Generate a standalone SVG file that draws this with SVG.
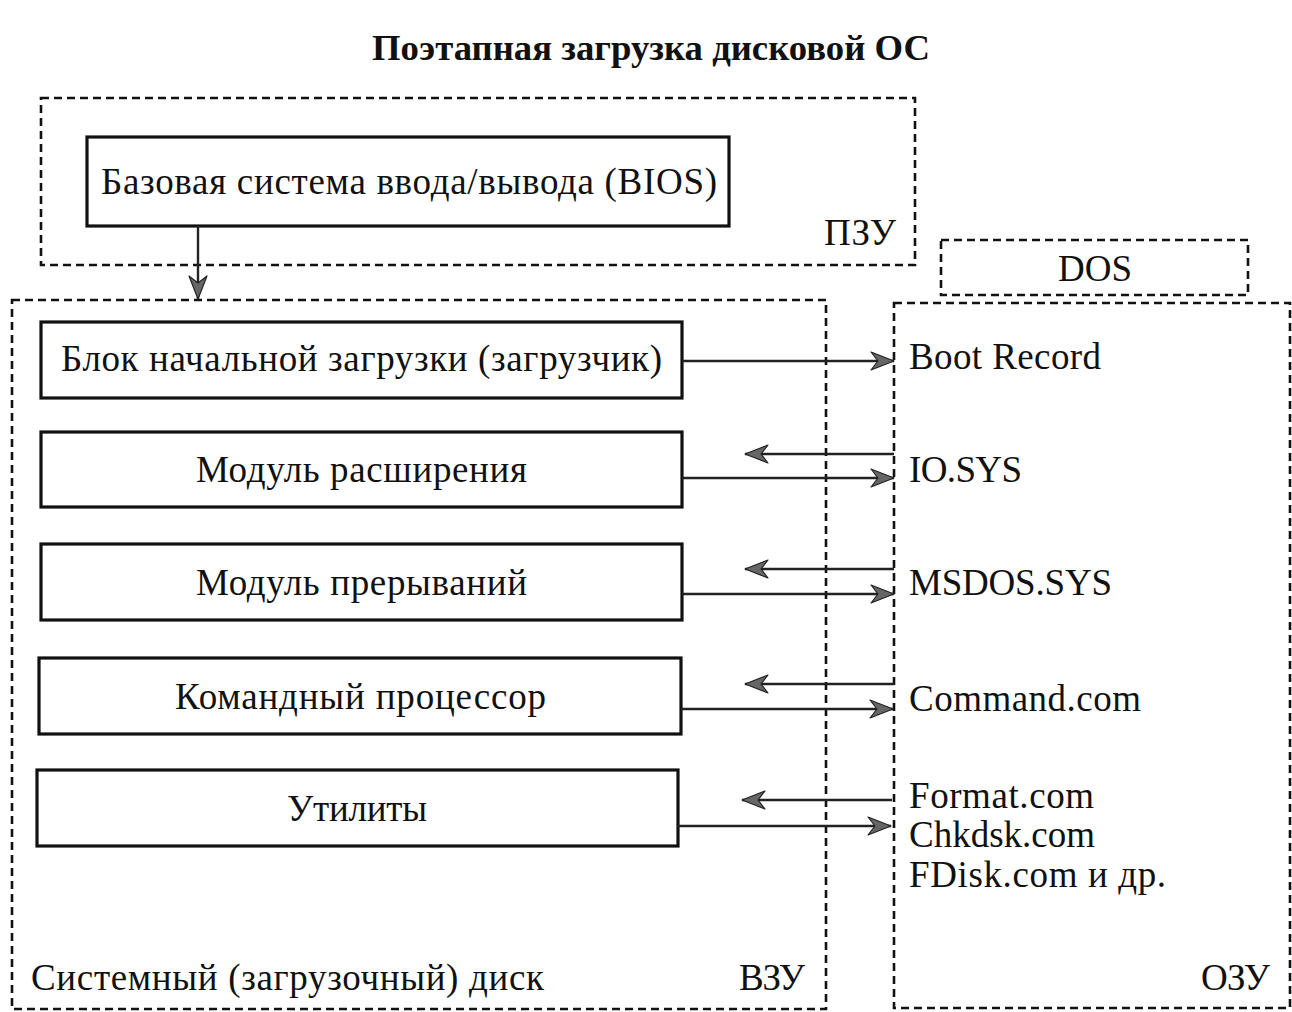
<svg xmlns="http://www.w3.org/2000/svg" width="1292" height="1012" viewBox="0 0 1292 1012">
<style>
text{font-family:"Liberation Serif","Times New Roman",serif;font-size:37px;fill:#111}
.title{font-weight:bold;font-size:35px}
.box{fill:none;stroke:#111;stroke-width:3.2}
.dash{fill:none;stroke:#111;stroke-width:2.6;stroke-dasharray:8 5}
.conn{stroke:#222;stroke-width:2.4;fill:none;marker-end:url(#ah)}
</style>
<defs>
<marker id="ah" markerUnits="userSpaceOnUse" markerWidth="26" markerHeight="22" viewBox="-1 -11 26 22" refX="23" refY="0" orient="auto">
<path d="M0,-9 L23,0 L0,9 L7,0 Z" fill="#666" stroke="#222" stroke-width="1.2" stroke-linejoin="round"/>
</marker>
</defs>
<rect width="1292" height="1012" fill="#fff"/>
<text class="title" x="372" y="60" textLength="558" lengthAdjust="spacingAndGlyphs">Поэтапная загрузка дисковой ОС</text>

<g id="pzu">
<rect class="dash" x="41" y="98" width="874" height="167"/>
<text x="824" y="245" textLength="72">ПЗУ</text>
</g>
<g id="bios">
<rect class="box" x="87" y="137" width="642" height="89"/>
<text x="101" y="194" textLength="616">Базовая система ввода/вывода (BIOS)</text>
</g>
<g id="vzu">
<rect class="dash" x="12" y="300" width="814" height="709"/>
<text x="31" y="990" textLength="513">Системный (загрузочный) диск</text>
<text x="739" y="990" textLength="66">ВЗУ</text>
</g>
<g id="dos">
<rect class="dash" x="941" y="240" width="307" height="55"/>
<text x="1058" y="281" textLength="74">DOS</text>
</g>
<g id="ozu">
<rect class="dash" x="894" y="303" width="396" height="705"/>
<text x="1201" y="990" textLength="69">ОЗУ</text>
</g>

<g id="boot">
<rect class="box" x="41" y="322" width="641" height="76"/>
<text x="61" y="371" textLength="601">Блок начальной загрузки (загрузчик)</text>
</g>
<g id="ext">
<rect class="box" x="41" y="432" width="641" height="75"/>
<text x="196" y="482" textLength="331">Модуль расширения</text>
</g>
<g id="int">
<rect class="box" x="41" y="544" width="641" height="76"/>
<text x="196" y="595" textLength="331">Модуль прерываний</text>
</g>
<g id="cmd">
<rect class="box" x="39" y="658" width="642" height="76"/>
<text x="175" y="709" textLength="371">Командный процессор</text>
</g>
<g id="util">
<rect class="box" x="37" y="770" width="641" height="76"/>
<text x="287" y="821" textLength="140">Утилиты</text>
</g>

<g id="ram-items">
<text x="909" y="369" textLength="192">Boot Record</text>
<text x="909" y="482" textLength="113">IO.SYS</text>
<text x="909" y="595" textLength="203">MSDOS.SYS</text>
<text x="909" y="711" textLength="232">Command.com</text>
<text x="909" y="808" textLength="185">Format.com</text>
<text x="909" y="847" textLength="186">Chkdsk.com</text>
<text x="909" y="887" textLength="257">FDisk.com и др.</text>
</g>

<g id="connectors">
<line class="conn" x1="198" y1="226" x2="198" y2="299"/>
<line class="conn" x1="682" y1="361" x2="894" y2="361"/>
<line class="conn" x1="894" y1="454" x2="745" y2="454"/>
<line class="conn" x1="682" y1="478" x2="894" y2="478"/>
<line class="conn" x1="894" y1="569" x2="745" y2="569"/>
<line class="conn" x1="682" y1="594" x2="894" y2="594"/>
<line class="conn" x1="894" y1="684" x2="745" y2="684"/>
<line class="conn" x1="681" y1="709" x2="893" y2="709"/>
<line class="conn" x1="892" y1="800" x2="742" y2="800"/>
<line class="conn" x1="678" y1="826" x2="891" y2="826"/>
</g>
</svg>
